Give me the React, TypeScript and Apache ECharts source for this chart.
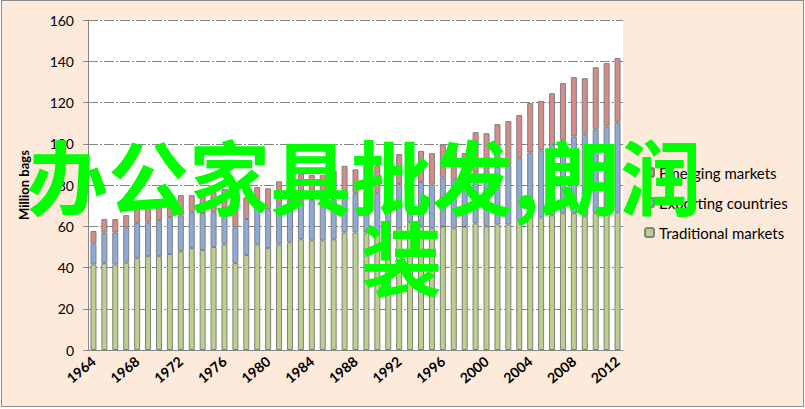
import React, { useEffect, useRef } from 'react';
import * as echarts from 'echarts';

const years = [
  '1964', '1965', '1966', '1967', '1968', '1969', '1970', '1971', '1972', '1973',
  '1974', '1975', '1976', '1977', '1978', '1979', '1980', '1981', '1982', '1983',
  '1984', '1985', '1986', '1987', '1988', '1989', '1990', '1991', '1992', '1993',
  '1994', '1995', '1996', '1997', '1998', '1999', '2000', '2001', '2002', '2003',
  '2004', '2005', '2006', '2007', '2008', '2009', '2010', '2011', '2012',
];

const traditionalMarkets = [
  41.5, 42.1, 41.5, 42.4, 44.5, 45.5, 45.5, 46.5, 47.9, 49.4,
  48.5, 49.9, 51.2, 42.1, 46.0, 51.2, 49.4, 51.2, 52.2, 53.7,
  53.2, 53.2, 53.7, 57.0, 57.0, 57.0, 56.1, 57.0, 59.0, 61.9,
  60.0, 59.0, 59.9, 59.0, 59.8, 61.4, 60.0, 60.9, 60.9, 62.9,
  65.3, 64.3, 65.3, 66.3, 66.3, 64.8, 66.3, 66.3, 66.7,
];

const exportingCountries = [
  10.2, 14.9, 15.5, 17.1, 17.0, 16.4, 17.5, 17.9, 17.4, 17.4,
  17.9, 16.9, 17.5, 17.4, 17.5, 18.0, 18.8, 19.4, 20.4, 18.2,
  19.4, 19.4, 19.4, 19.0, 19.0, 20.0, 19.9, 24.8, 21.5, 21.8,
  21.5, 21.3, 23.8, 23.7, 25.0, 24.6, 27.0, 28.0, 28.6, 30.1,
  30.5, 32.5, 34.4, 35.4, 37.2, 39.8, 40.7, 42.1, 43.7,
];

const emergingMarkets = [
  6.0, 6.5, 6.5, 5.9, 7.3, 8.3, 7.7, 8.1, 9.8, 8.3,
  8.7, 9.7, 9.3, 10.5, 10.5, 9.8, 10.2, 11.2, 10.1, 13.6,
  12.4, 12.4, 13.9, 13.3, 11.6, 15.1, 13.6, 9.2, 14.5, 15.7,
  15.0, 15.1, 16.1, 17.1, 10.7, 19.6, 18.1, 20.6, 21.5, 20.9,
  23.9, 23.9, 24.8, 27.7, 28.8, 27.2, 30.1, 30.7, 31.1,
];

const seriesNames = ['Emerging markets', 'Exporting countries', 'Traditional markets'];
const overlayLine1 = '办公家具批发,朗润';
const overlayLine2 = '装';

const FONT = 'Lato, "Noto Sans", sans-serif';

export default function App() {
  const ref = useRef<HTMLDivElement>(null);

  useEffect(() => {
    if (!ref.current) return;
    const chart = echarts.init(ref.current, undefined, { renderer: 'svg' });
    const border = { borderColor: '#7f7f7f', borderWidth: 1 };
    chart.setOption({
      animation: false,
      backgroundColor: 'transparent',
      textStyle: { fontFamily: FONT },
      grid: {
        left: 88,
        top: 20,
        width: 535,
        height: 330,
        show: true,
        backgroundColor: '#ffffff',
        borderWidth: 0,
      },
      legend: {
        orient: 'vertical',
        left: 639,
        top: 160,
        itemWidth: 9,
        itemHeight: 9,
        itemGap: 15,
        data: seriesNames,
        textStyle: { fontSize: 15, color: '#000', fontFamily: FONT },
      },
      xAxis: {
        type: 'category',
        data: years,
        axisLine: { lineStyle: { color: '#868686' } },
        axisTick: { interval: 0, length: 5, lineStyle: { color: '#868686' } },
        axisLabel: {
          interval: 3,
          rotate: 40,
          margin: 9,
          fontSize: 14,
          fontWeight: 'bold',
          color: '#000',
          fontFamily: FONT,
        },
      },
      yAxis: {
        type: 'value',
        min: 0,
        max: 160,
        interval: 20,
        name: 'Million bags',
        nameLocation: 'middle',
        nameGap: 58,
        nameTextStyle: { fontSize: 13, fontWeight: 'bold', color: '#000', fontFamily: FONT },
        axisLine: { show: true, lineStyle: { color: '#868686' } },
        axisTick: { show: true, length: 5, lineStyle: { color: '#868686' } },
        axisLabel: { fontSize: 14, color: '#000', margin: 14, fontFamily: FONT },
        splitLine: { lineStyle: { color: '#868686', type: [10, 2, 2, 2], width: 1 } },
      },
      series: [
        {
          name: 'Traditional markets',
          type: 'bar',
          stack: 'total',
          barWidth: 6,
          data: traditionalMarkets,
          itemStyle: { color: '#BCCF8D', ...border },
        },
        {
          name: 'Exporting countries',
          type: 'bar',
          stack: 'total',
          barWidth: 6,
          data: exportingCountries,
          itemStyle: { color: '#8DAAD6', ...border },
        },
        {
          name: 'Emerging markets',
          type: 'bar',
          stack: 'total',
          barWidth: 6,
          data: emergingMarkets,
          itemStyle: { color: '#D58C89', ...border },
        },
      ],
      graphic: [
        {
          type: 'text',
          z: 100,
          x: 27,
          y: 173,
          style: {
            text: overlayLine1,
            font: 'bold 81px "Noto Sans CJK SC"',
            fill: '#00FF00',
            textVerticalAlign: 'middle',
          },
        },
        {
          type: 'text',
          z: 100,
          x: 361,
          y: 254,
          style: {
            text: overlayLine2,
            font: 'bold 81px "Noto Sans CJK SC"',
            fill: '#00FF00',
            textVerticalAlign: 'middle',
          },
        },
      ],
    });
    return () => chart.dispose();
  }, []);

  return (
    <div style={{ position: 'fixed', left: 0, top: 0, width: 805, height: 409, background: '#ffffff' }}>
      <div
        style={{
          position: 'absolute',
          left: 1,
          top: 0,
          width: 801,
          height: 405,
          background: '#FDEADA',
          border: '1px solid #8c8c8c',
        }}
      />
      <div ref={ref} style={{ position: 'absolute', left: 0, top: 0, width: 805, height: 409 }} />
    </div>
  );
}
